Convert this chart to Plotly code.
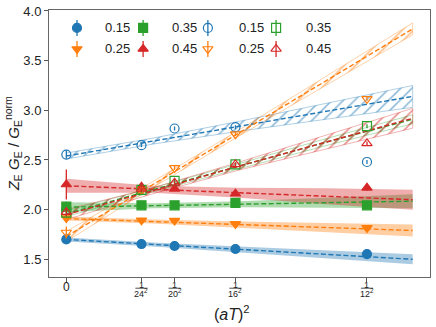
import plotly.graph_objects as go

# 橫軸位置：連續極限 0 與 1/Nt^2
nt_list = [24, 20, 16, 12]
x_pts = [0] + [1 / n**2 for n in nt_list]

# 實心點（第一組）
f015 = [1.70, 1.654, 1.634, 1.604, 1.553]
f025 = [1.915, 1.893, 1.89, 1.856, 1.816]
f035 = [2.03, 2.044, 2.044, 2.068, 2.044]
f045 = [2.253, 2.23, 2.21, 2.16, 2.22]
f015_err = [0.03, 0.01, 0.01, 0.01, 0.015]
f025_err = [0.03, 0.01, 0.01, 0.01, 0.01]
f035_err = [0.05, 0.01, 0.01, 0.01, 0.01]
f045_err = [0.15, 0.03, 0.02, 0.02, 0.03]

# 空心點（第二組）
o015 = [2.555, 2.649, 2.817, 2.83, 2.48]
o025 = [1.77, 2.20, 2.42, 2.76, 3.116]
o035 = [1.97, 2.20, 2.29, 2.455, 2.84]
o045 = [1.975, 2.21, 2.27, 2.455, 2.667]
o015_err = [0.04, 0.02, 0.02, 0.02, 0.02]
o025_err = [0.06, 0.02, 0.02, 0.02, 0.02]
o035_err = [0.04, 0.02, 0.02, 0.02, 0.02]
o045_err = [0.04, 0.02, 0.02, 0.02, 0.02]

# 線性外插擬合：中心值與半寬
fit_x = [0, 0.002, 0.004, 0.006, 0.008]
fit_f015 = [1.70, 1.65, 1.60, 1.55, 1.50]
hw_f015 = [0.02, 0.02, 0.03, 0.04, 0.05]
fit_f025 = [1.91, 1.88, 1.85, 1.82, 1.79]
hw_f025 = [0.02, 0.02, 0.03, 0.045, 0.06]
fit_f035 = [2.025, 2.04, 2.055, 2.07, 2.085]
hw_f035 = [0.05, 0.025, 0.03, 0.05, 0.07]
fit_f045 = [2.24, 2.205, 2.17, 2.135, 2.10]
hw_f045 = [0.07, 0.035, 0.05, 0.08, 0.10]

fit_o015 = [2.54, 2.69, 2.84, 2.99, 3.14]
hw_o015 = [0.03, 0.03, 0.05, 0.08, 0.11]
fit_o025 = [1.73, 2.2525, 2.775, 3.2975, 3.82]
hw_o025 = [0.05, 0.03, 0.03, 0.045, 0.06]
fit_o035 = [1.96, 2.20, 2.44, 2.68, 2.91]
hw_o035 = [0.03, 0.02, 0.025, 0.035, 0.045]
fit_o045 = [1.95, 2.19, 2.44, 2.68, 2.92]
hw_o045 = [0.05, 0.03, 0.04, 0.07, 0.10]

labels = ['0.15', '0.25', '0.35', '0.45']

BLUE, ORANGE, GREEN, RED = '#1f77b4', '#ff7f0e', '#2ca02c', '#d62728'
RGBA = {BLUE: '31,119,180', ORANGE: '255,127,14', GREEN: '44,160,44', RED: '214,39,40'}

filled = [
    (f015, f015_err, fit_f015, hw_f015, BLUE, 'circle'),
    (f025, f025_err, fit_f025, hw_f025, ORANGE, 'triangle-down'),
    (f035, f035_err, fit_f035, hw_f035, GREEN, 'square'),
    (f045, f045_err, fit_f045, hw_f045, RED, 'triangle-up'),
]
opened = [
    (o015, o015_err, fit_o015, hw_o015, BLUE, 'circle-open'),
    (o025, o025_err, fit_o025, hw_o025, ORANGE, 'triangle-down-open'),
    (o035, o035_err, fit_o035, hw_o035, GREEN, 'square-open'),
    (o045, o045_err, fit_o045, hw_o045, RED, 'triangle-up-open'),
]

fig = go.Figure()


def band_xy(center, hw):
    up = [c + h for c, h in zip(center, hw)]
    lo = [c - h for c, h in zip(center, hw)]
    return fit_x + fit_x[::-1], up + lo[::-1]


# 誤差帶
for y, err, fc, hw, col, sym in filled:
    bx, by = band_xy(fc, hw)
    fig.add_trace(go.Scatter(
        x=bx, y=by, mode='lines', fill='toself',
        fillcolor=f'rgba({RGBA[col]},0.38)', line=dict(width=0),
        showlegend=False, hoverinfo='skip'))

for y, err, fc, hw, col, sym in opened:
    bx, by = band_xy(fc, hw)
    fig.add_trace(go.Scatter(
        x=bx, y=by, mode='lines', fill='toself',
        fillcolor='rgba(0,0,0,0)',
        fillpattern=dict(shape='/', fgcolor=col, bgcolor='rgba(0,0,0,0)',
                         size=8, solidity=0.2, fillmode='overlay'),
        line=dict(color=f'rgba({RGBA[col]},0.35)', width=1),
        showlegend=False, hoverinfo='skip'))

# 擬合虛線
for y, err, fc, hw, col, sym in filled + opened:
    fig.add_trace(go.Scatter(
        x=fit_x, y=fc, mode='lines',
        line=dict(color=col, width=1.4, dash='5px,2.5px'),
        showlegend=False, hoverinfo='skip'))

# 資料點
for y, err, fc, hw, col, sym in filled + opened:
    fig.add_trace(go.Scatter(
        x=x_pts, y=y, mode='markers',
        marker=dict(symbol=sym, size=9, color=col,
                    line=dict(color=col, width=1.2)),
        error_y=dict(type='data', array=err, color=col, thickness=1.3, width=0),
        showlegend=False))

# 圖例（手動繪製，4 欄 x 2 列）
leg_mx = [0.0735, 0.247, 0.417, 0.596]
leg_tx = [0.142, 0.318, 0.493, 0.669]
leg_y = [0.933, 0.854]
leg_items = [
    (0, 0, filled[0], labels[0]), (0, 1, filled[1], labels[1]),
    (1, 0, filled[2], labels[2]), (1, 1, filled[3], labels[3]),
    (2, 0, opened[0], labels[0]), (2, 1, opened[1], labels[1]),
    (3, 0, opened[2], labels[2]), (3, 1, opened[3], labels[3]),
]
for c, r, item, lab in leg_items:
    col, sym = item[4], item[5]
    fig.add_trace(go.Scatter(
        x=[leg_mx[c]], y=[leg_y[r]], xaxis='x2', yaxis='y2', mode='markers',
        marker=dict(symbol=sym, size=9, color=col,
                    line=dict(color=col, width=1.2)),
        error_y=dict(type='constant', value=0.03, color=col, thickness=1.3, width=0),
        showlegend=False, hoverinfo='skip'))
    fig.add_annotation(x=leg_tx[c], y=leg_y[r], xref='x2', yref='y2', text=lab,
                       showarrow=False, xanchor='left', yanchor='middle',
                       font=dict(size=13, color='#222'))

# x 軸刻度標籤（0 與分數 1/N^2）
fig.add_annotation(x=0, y=0, xref='x', yref='paper', text='0', yshift=-10,
                   showarrow=False, yanchor='middle', font=dict(size=12, color='#222'))
for n, xv in zip(nt_list, x_pts[1:]):
    fig.add_annotation(x=xv, y=0, xref='x', yref='paper', text='1', yshift=-8,
                       showarrow=False, yanchor='middle', font=dict(size=9, color='#222'))
    fig.add_annotation(x=xv, y=0, xref='x', yref='paper', yshift=-16,
                       text=f'{n}<sup>2</sup>', showarrow=False, yanchor='middle',
                       font=dict(size=9, color='#222'))
    fig.add_shape(type='line', xref='x', yref='paper', x0=xv - 0.00014, x1=xv + 0.00014,
                  y0=-0.042, y1=-0.042, line=dict(color='#222', width=0.8))

fig.add_annotation(x=0.48, y=-0.135, xref='paper', yref='paper',
                   text='(<i>aT</i>)<sup>2</sup>', showarrow=False, yanchor='middle',
                   font=dict(size=16, color='#222'))
fig.add_annotation(x=-0.095, y=0.5, xref='paper', yref='paper', textangle=-90,
                   text='<i>Z</i><sub>E</sub> <i>G</i><sub>E</sub> / <i>G</i><sub>E</sub><sup>norm</sup>',
                   showarrow=False, xanchor='center', yanchor='middle',
                   font=dict(size=15, color='#222'))

fig.update_layout(
    width=436, height=327,
    margin=dict(l=49, r=6, t=10, b=50, autoexpand=False),
    plot_bgcolor='white', paper_bgcolor='white',
    font=dict(family='Liberation Sans, Arial, sans-serif', size=13, color='#222'),
    showlegend=False,
    xaxis=dict(range=[-0.0004, 0.0084], tickvals=x_pts, automargin=False,
               showticklabels=False, ticks='outside', ticklen=4,
               tickcolor='#555', showgrid=False, zeroline=False,
               showline=True, linecolor='#666', linewidth=1, mirror=True),
    yaxis=dict(range=[1.322, 4.01], tickvals=[1.5, 2.0, 2.5, 3.0, 3.5, 4.0],
               ticktext=['1.5', '2.0', '2.5', '3.0', '3.5', '4.0'], automargin=False,
               ticks='outside', ticklen=4, tickcolor='#555', showgrid=False,
               zeroline=False, showline=True, linecolor='#666', linewidth=1,
               mirror=True),
    xaxis2=dict(overlaying='x', range=[0, 1], visible=False, automargin=False),
    yaxis2=dict(overlaying='y', range=[0, 1], visible=False, automargin=False),
)

# 去掉瀏覽器預設的 body 邊距，讓圖貼齊視窗左上角
fig.write_html("out.html", config={'displayModeBar': False},
               post_script="document.body.style.margin='0px';")
